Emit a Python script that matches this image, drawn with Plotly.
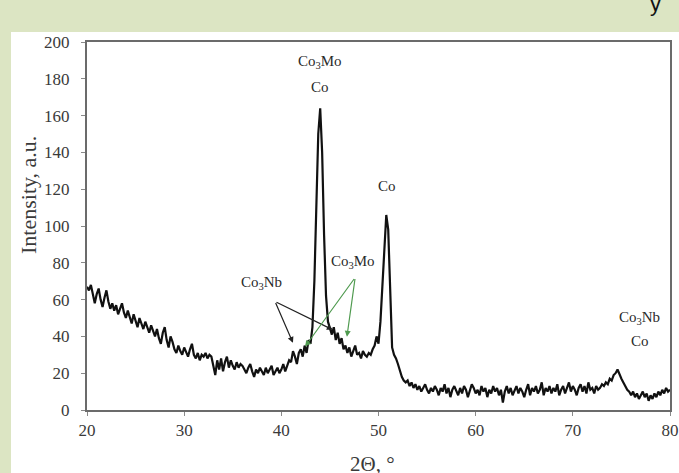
import numpy as np
import plotly.graph_objects as go

# 2-theta grid (0.2 deg step, 20..80)
two_theta = np.round(np.linspace(20, 80, 301), 2)

intensity = [
    67, 65, 68, 62, 58, 63, 66, 60, 56, 61,   # 20.0-21.8
    65, 59, 55, 58, 54, 57, 52, 55, 58, 53,   # 22.0-23.8
    50, 54, 51, 47, 52, 49, 45, 50, 47, 44,   # 24.0-25.8
    48, 45, 42, 46, 43, 40, 44, 39, 36, 42,   # 26.0-27.8
    45, 38, 34, 40, 37, 33, 31, 35, 32, 30,   # 28.0-29.8
    34, 31, 29, 33, 36, 30, 28, 31, 27, 30,   # 30.0-31.8
    29, 31, 28, 30, 29, 24, 19, 27, 22, 28,   # 32.0-33.8
    21, 26, 29, 23, 27, 24, 22, 26, 23, 25,   # 34.0-35.8
    24, 22, 20, 23, 25, 21, 18, 22, 20, 23,   # 36.0-37.8
    21, 19, 23, 20, 22, 24, 19, 21, 23, 20,   # 38.0-39.8
    22, 25, 21, 24, 27, 26, 32, 29, 25, 31,   # 40.0-41.8
    33, 29, 35, 31, 38, 36, 45, 70, 112, 150, # 42.0-43.8
    164, 140, 95, 62, 48, 44, 41, 45, 38, 42, # 44.0-45.8
    36, 39, 33, 35, 31, 34, 29, 32, 35, 30,   # 46.0-47.8
    31, 28, 32, 30, 29, 31, 30, 33, 35, 40,   # 48.0-49.8
    36, 48, 68, 92, 106, 98, 62, 34, 30, 28,  # 50.0-51.8
    25, 21, 18, 16, 15, 16, 13, 15, 12, 14,   # 52.0-53.8
    11, 13, 10, 12, 14, 11, 9, 12, 10, 13,    # 54.0-55.8
    11, 8, 12, 10, 14, 9, 12, 7, 11, 13,      # 56.0-57.8
    10, 8, 12, 9, 13, 11, 7, 10, 14, 12,      # 58.0-59.8
    9, 11, 8, 13, 10, 12, 7, 11, 9, 13,       # 60.0-61.8
    10, 12, 8, 11, 4, 10, 13, 9, 12, 8,       # 62.0-63.8
    11, 13, 9, 12, 10, 7, 11, 14, 8, 12,      # 64.0-65.8
    10, 13, 9, 11, 15, 8, 12, 10, 13, 9,      # 66.0-67.8
    12, 10, 14, 8, 11, 13, 9, 12, 15, 10,     # 68.0-69.8
    13, 11, 8, 12, 14, 10, 13, 9, 15, 11,     # 70.0-71.8
    12, 9, 13, 11, 12, 14, 13, 15, 14, 17,    # 72.0-73.8
    16, 19, 20, 22, 19, 17, 15, 13, 11, 10,   # 74.0-75.8
    8, 10, 7, 9, 6, 8, 10, 7, 9, 5,           # 76.0-77.8
    8, 6, 9, 7, 10, 8, 11, 9, 12, 10,         # 78.0-79.8
    11,                                       # 80.0
]

x_ticks = [20, 30, 40, 50, 60, 70, 80]
y_ticks = [0, 20, 40, 60, 80, 100, 120, 140, 160, 180, 200]

SERIF = "Liberation Serif, Times New Roman, serif"
GREEN = "#4f9a4f"
TXT = "#3a3a3a"

fig = go.Figure()
fig.add_trace(go.Scatter(
    x=two_theta, y=intensity, mode="lines",
    line=dict(color="#111111", width=2.2), showlegend=False, hoverinfo="skip",
))

W, H = 679, 473
L, R, T, B = 87, 9, 42, 63
pw, ph = W - L - R, H - T - B


def px(xp):
    return (xp - L) / pw


def py(yp):
    return (H - B - yp) / ph


shapes = [
    dict(type="rect", xref="paper", yref="paper",
         x0=px(11), x1=px(680), y0=py(32), y1=py(474),
         fillcolor="white", line=dict(width=0), layer="below"),
]

anns = []
lab_font = dict(family=SERIF, size=15, color="#2a2a2a")


def label(x, y, text):
    anns.append(dict(x=x, y=y, xref="x", yref="y", text=text, showarrow=False,
                     font=lab_font, xanchor="center", yanchor="middle"))


label(44.0, 189, "Co<sub>3</sub>Mo")
label(44.0, 175.5, "Co")
label(50.9, 122, "Co")
label(38.0, 69, "Co<sub>3</sub>Nb")
label(47.4, 80.5, "Co<sub>3</sub>Mo")
label(76.9, 50, "Co<sub>3</sub>Nb")
label(76.9, 37.5, "Co")


def arrow(x0, y0, x1, y1, color):
    anns.append(dict(x=x1, y=y1, ax=x0, ay=y0, xref="x", yref="y",
                     axref="x", ayref="y", text="", showarrow=True,
                     arrowhead=2, arrowsize=1, arrowwidth=1.2,
                     arrowcolor=color, standoff=0))


arrow(39.35, 59, 41.2, 36.5, "#222222")
arrow(39.35, 59, 45.3, 43.6, "#222222")
arrow(47.6, 72, 42.45, 34.5, GREEN)
arrow(47.6, 72, 46.75, 39.8, GREEN)

# axis titles placed as in the source (slightly off-centre)
anns.append(dict(x=px(28), y=py(195), xref="paper", yref="paper",
                 text="Intensity, a.u.", textangle=-90, showarrow=False,
                 font=dict(family=SERIF, size=22, color=TXT),
                 xanchor="center", yanchor="middle"))
anns.append(dict(x=px(372), y=py(464), xref="paper", yref="paper",
                 text="2Θ, °", showarrow=False,
                 font=dict(family=SERIF, size=21, color=TXT),
                 xanchor="center", yanchor="middle"))

# fragment of text cut off at top right of the source image
anns.append(dict(x=px(655), y=py(18), xref="paper", yref="paper", text="y",
                 showarrow=False, font=dict(family="Liberation Sans", size=22, color="#111111"),
                 xanchor="center", yanchor="bottom"))

fig.update_layout(
    width=W, height=H,
    margin=dict(l=L, r=R, t=T, b=B, pad=0, autoexpand=False),
    paper_bgcolor="#dce5c3",
    plot_bgcolor="white",
    shapes=shapes,
    annotations=anns,
    font=dict(family=SERIF, color=TXT),
    xaxis=dict(
        range=[20, 80], tickvals=x_ticks, ticktext=[str(v) for v in x_ticks],
        showgrid=False, zeroline=False, showline=True, mirror=True,
        linecolor="#6b6b6b", linewidth=2, ticks="outside", ticklen=4,
        tickcolor="#8a8a8a", tickfont=dict(family=SERIF, size=17, color=TXT),
    ),
    yaxis=dict(
        range=[0, 200], tickvals=y_ticks, ticktext=[str(v) for v in y_ticks],
        showgrid=False, zeroline=False, showline=True, mirror=True,
        linecolor="#6b6b6b", linewidth=2, ticks="outside", ticklen=4,
        tickcolor="#8a8a8a", tickfont=dict(family=SERIF, size=17, color=TXT),
        ticklabelstandoff=8,
    ),
)

fig.write_html(
    "out.html",
    config={"displayModeBar": False, "staticPlot": True},
    post_script="document.body.style.margin='0';document.body.style.overflow='hidden';",
)
